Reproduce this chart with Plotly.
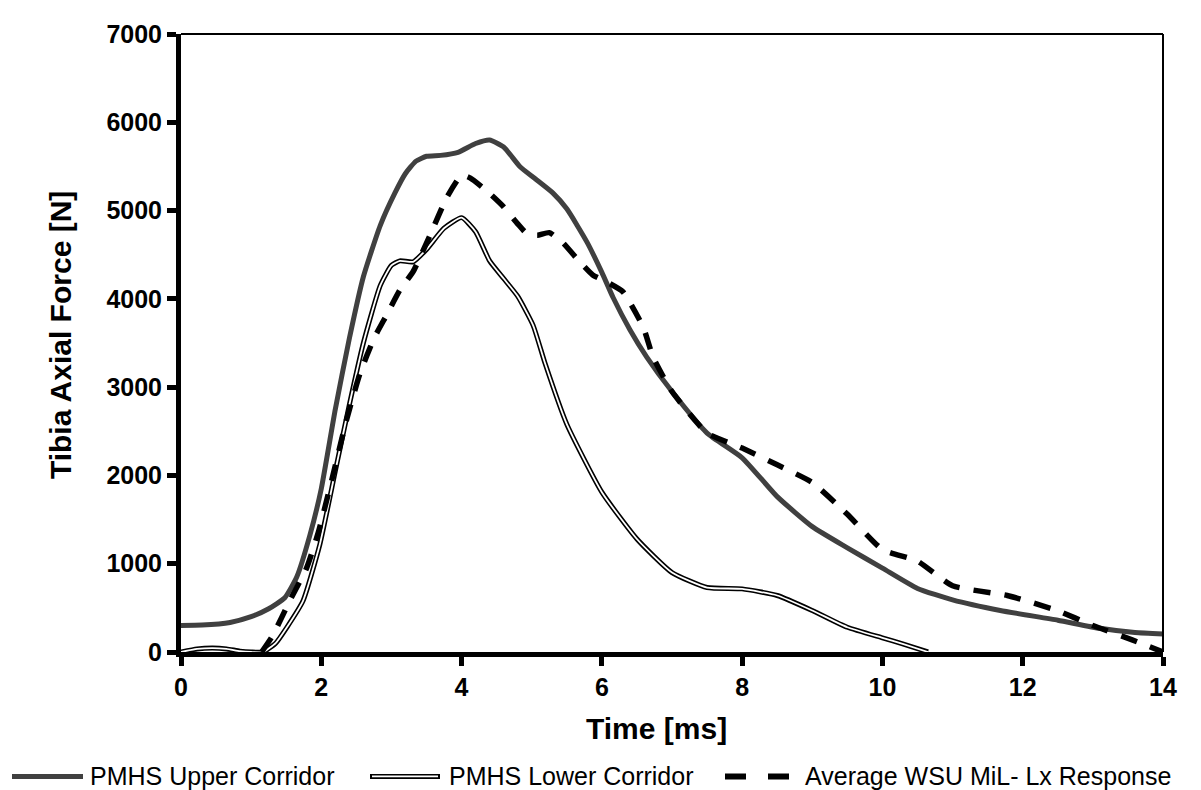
import plotly.graph_objects as go

# ---------------- data ----------------
upper_t = [0, 0.3, 0.7, 1.0, 1.25, 1.48, 1.65, 1.84, 2.0, 2.2, 2.4, 2.6, 2.84, 3.05, 3.2,
           3.35, 3.5, 3.7, 3.95, 4.2, 4.4, 4.6, 4.83, 5.05, 5.3, 5.5, 5.79, 6.0, 6.16, 6.4, 6.64,
           7.0, 7.5, 8.0, 8.5, 9.0, 9.5, 10.0, 10.5, 11.0, 11.68, 12.5, 13.1, 13.6, 14.0]
upper_f = [300, 305, 335, 400, 490, 615, 850, 1330, 1850, 2750, 3550, 4250, 4830, 5200, 5420,
           5560, 5615, 5625, 5660, 5760, 5800, 5720, 5500, 5360, 5200, 5020, 4640, 4300, 4015, 3650, 3340,
           2950, 2480, 2200, 1760, 1420, 1180, 950, 720, 590, 470, 360, 268, 220, 205]

lower_t = [0, 0.23, 0.45, 0.65, 0.84, 1.0, 1.17, 1.35, 1.51, 1.74, 1.98, 2.2, 2.4, 2.6,
           2.84, 3.0, 3.12, 3.31, 3.5, 3.75, 4.0, 4.2, 4.4, 4.6, 4.8, 5.02, 5.19, 5.5, 6.0, 6.5,
           7.0, 7.5, 8.0, 8.5, 9.0, 9.5, 10.0, 10.3, 10.65]
lower_f = [0, 35, 45, 35, 10, 0, 0, 100, 280, 580, 1220, 2050, 2800, 3500,
           4150, 4380, 4430, 4420, 4560, 4800, 4920, 4760, 4430, 4230, 4030, 3700, 3270, 2580, 1810, 1280,
           900, 730, 715, 640, 470, 280, 160, 90, 0]

avg_t = [1.15, 1.31, 1.55, 1.79, 1.96, 2.15, 2.35, 2.55, 2.75, 2.94, 3.12, 3.31, 3.55, 3.79,
         4.0, 4.12, 4.35, 4.59, 4.8, 4.93, 5.08, 5.25, 5.45, 5.65, 5.87, 6.05, 6.3, 6.59, 6.73,
         7.0, 7.5, 8.0, 8.5, 9.0, 9.5, 10.0, 10.5, 11.0, 11.78, 12.49, 13.0, 13.57, 14.0]
avg_f = [0, 190, 580, 950, 1360, 1950, 2600, 3150, 3550, 3830, 4100, 4310, 4720, 5150,
         5400, 5370, 5230, 5050, 4850, 4740, 4720, 4750, 4630, 4450, 4270, 4200, 4080, 3680, 3340,
         2950, 2480, 2310, 2120, 1920, 1560, 1160, 1030, 750, 640, 470, 300, 134, 0]

x_ticks = [0, 2, 4, 6, 8, 10, 12, 14]
y_ticks = [0, 1000, 2000, 3000, 4000, 5000, 6000, 7000]

legend_names = ["PMHS Upper Corridor", "PMHS Lower Corridor", "Average WSU MiL- Lx Response"]
x_title = "Time [ms]"
y_title = "Tibia Axial Force [N]"

FONT = "Liberation Sans, Arial, sans-serif"
GRAY = "#404040"

fig = go.Figure()
fig.add_trace(go.Scatter(x=upper_t, y=upper_f, mode="lines", name=legend_names[0],
                         line=dict(color=GRAY, width=5, shape="spline", smoothing=0.5),
                         showlegend=False))
fig.add_trace(go.Scatter(x=lower_t, y=lower_f, mode="lines", name=legend_names[1],
                         line=dict(color="black", width=5, shape="spline", smoothing=0.5),
                         showlegend=False))
fig.add_trace(go.Scatter(x=lower_t, y=lower_f, mode="lines", name=legend_names[1],
                         line=dict(color="white", width=1.8, shape="spline", smoothing=0.5),
                         showlegend=False))
fig.add_trace(go.Scatter(x=avg_t, y=avg_f, mode="lines", name=legend_names[2],
                         line=dict(color="black", width=5.5, dash="17px,14px",
                                   shape="spline", smoothing=0.5),
                         showlegend=False))

# frame: thin top and right borders
fig.add_shape(type="line", xref="paper", yref="paper", x0=0, x1=1, y0=1, y1=1,
              line=dict(color="black", width=2))
fig.add_shape(type="line", xref="paper", yref="paper", x0=1, x1=1, y0=0, y1=1,
              line=dict(color="black", width=2))

# page offset (browser body margin) is 8px; positions below are screen pixels
PW, PH, L, B = 982.0, 626.0, 181.0, 652.0
def px(x):
    return (x - L) / PW
def py(y):
    return (B - y) / PH

ly = py(778)
fig.add_shape(type="line", xref="paper", yref="paper", x0=px(12), x1=px(83), y0=ly, y1=ly,
              line=dict(color=GRAY, width=5))
fig.add_shape(type="line", xref="paper", yref="paper", x0=px(370), x1=px(440), y0=ly, y1=ly,
              line=dict(color="black", width=5))
fig.add_shape(type="line", xref="paper", yref="paper", x0=px(372), x1=px(438), y0=ly, y1=ly,
              line=dict(color="white", width=1.8))
fig.add_shape(type="line", xref="paper", yref="paper", x0=px(725), x1=px(790), y0=ly, y1=ly,
              line=dict(color="black", width=6, dash="21px,22px"))
for xs, name in zip([88, 447, 803], legend_names):
    fig.add_annotation(x=px(xs), y=ly, xref="paper", yref="paper", text=name,
                       showarrow=False, xanchor="left", yanchor="middle",
                       font=dict(family=FONT, size=25, color="black"))

# axis titles
fig.add_annotation(x=px(656), y=py(729), xref="paper", yref="paper", text=x_title,
                   showarrow=False, xanchor="center", yanchor="middle",
                   font=dict(family=FONT, size=30, weight="bold", color="black"))
fig.add_annotation(x=px(60), y=py(331), xref="paper", yref="paper", text=y_title,
                   showarrow=False, xanchor="center", yanchor="middle", textangle=-90,
                   font=dict(family=FONT, size=30, weight="bold", color="black"))

fig.update_layout(
    width=1193, height=782,
    margin=dict(l=173, r=38, t=18, b=138),
    paper_bgcolor="white", plot_bgcolor="white",
    font=dict(family=FONT, color="black"),
    showlegend=False,
)
fig.update_xaxes(
    range=[0, 14], tickvals=x_ticks, ticktext=[str(v) for v in x_ticks],
    showgrid=False, zeroline=False, showline=True, linecolor="black", linewidth=5,
    ticks="outside", ticklen=9, tickwidth=5, tickcolor="black",
    tickfont=dict(family=FONT, size=25, weight="bold"),
)
fig.update_yaxes(
    range=[0, 7000], tickvals=y_ticks, ticktext=[str(v) for v in y_ticks],
    showgrid=False, zeroline=False, showline=True, linecolor="black", linewidth=5,
    ticks="outside", ticklen=9, tickwidth=5, tickcolor="black",
    tickfont=dict(family=FONT, size=25, weight="bold"),
)

fig.write_html("out.html")
